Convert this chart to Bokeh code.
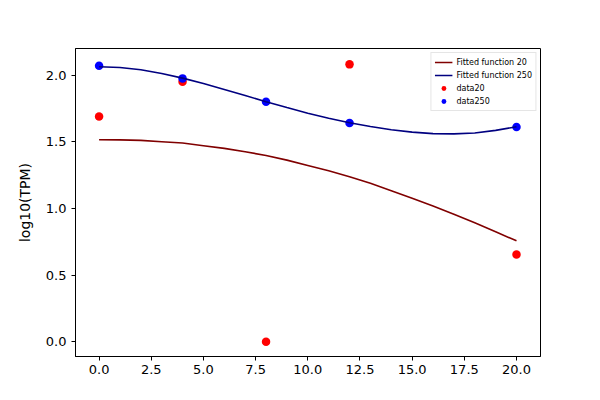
from bokeh.plotting import figure
from bokeh.models import Legend, LegendItem, FixedTicker, Range1d
from bokeh.embed import file_html
from bokeh.resources import INLINE

# data points
time_points = [0, 4, 8, 12, 20]
data20 = [1.69, 1.95, 0.0, 2.08, 0.655]
data250 = [2.07, 1.975, 1.80, 1.64, 1.61]

# fitted curves
fit_x = list(range(0, 21))
fit20 = [1.515, 1.514, 1.51, 1.50, 1.49, 1.47, 1.45, 1.425, 1.397, 1.362, 1.322,
         1.282, 1.238, 1.188, 1.133, 1.077, 1.018, 0.957, 0.892, 0.825, 0.757]
fit250 = [2.062, 2.056, 2.04, 2.012, 1.977, 1.937, 1.892, 1.846, 1.800, 1.756, 1.714,
          1.676, 1.643, 1.614, 1.59, 1.572, 1.561, 1.559, 1.566, 1.585, 1.612]

x_ticks = [0, 2.5, 5, 7.5, 10, 12.5, 15, 17.5, 20]
y_ticks = [0.0, 0.5, 1.0, 1.5, 2.0]

FONT = "DejaVu Sans"

p = figure(width=584, height=384, output_backend="svg", toolbar_location=None,
           x_range=Range1d(-1.13, 21.15), y_range=Range1d(-0.11, 2.199),
           min_border_left=75, min_border_right=44, min_border_top=48, min_border_bottom=28)
p.grid.visible = False
p.outline_line_color = "black"
p.outline_line_width = 1
p.background_fill_color = "white"
p.border_fill_color = "white"

for ax in (p.xaxis, p.yaxis):
    ax.minor_tick_line_color = None
    ax.major_tick_out = 4
    ax.major_tick_in = 0
    ax.major_label_text_font = FONT
    ax.major_label_text_font_size = "13px"
    ax.major_label_text_color = "black"
    ax.axis_line_color = "black"
    ax.major_tick_line_color = "black"

p.xaxis.ticker = FixedTicker(ticks=x_ticks)
p.yaxis.ticker = FixedTicker(ticks=y_ticks)
p.xaxis.major_label_overrides = {t: f"{t:.1f}" for t in x_ticks}
p.yaxis.major_label_overrides = {t: f"{t:.1f}" for t in y_ticks}
p.xaxis.major_label_standoff = 4

p.yaxis.axis_label = "log10(TPM)"
p.yaxis.axis_label_text_font = FONT
p.yaxis.axis_label_text_font_size = "14px"
p.yaxis.axis_label_text_font_style = "normal"
p.yaxis.axis_label_text_color = "black"
p.yaxis.axis_label_standoff = 10

s20 = p.scatter(time_points, data20, size=8.5, color="red", line_color=None)
s250 = p.scatter(time_points, data250, size=8.5, color="blue", line_color=None)
l20 = p.line(fit_x, fit20, line_color="#800000", line_width=1.6)
l250 = p.line(fit_x, fit250, line_color="#000080", line_width=1.6)

legend = Legend(items=[
    LegendItem(label="Fitted function 20", renderers=[l20]),
    LegendItem(label="Fitted function 250", renderers=[l250]),
    LegendItem(label="data20", renderers=[s20]),
    LegendItem(label="data250", renderers=[s250]),
], location="top_right")
legend.label_text_font = FONT
legend.label_text_font_size = "8px"
legend.label_text_color = "black"
legend.label_height = 12
legend.glyph_height = 12
legend.glyph_width = 18
legend.spacing = 1
legend.padding = 3
legend.margin = 4
legend.label_standoff = 4
legend.border_line_color = "#cccccc"
legend.border_line_width = 1
legend.background_fill_alpha = 0.8
p.add_layout(legend)

open("out.html", "w").write(file_html(p, INLINE))
